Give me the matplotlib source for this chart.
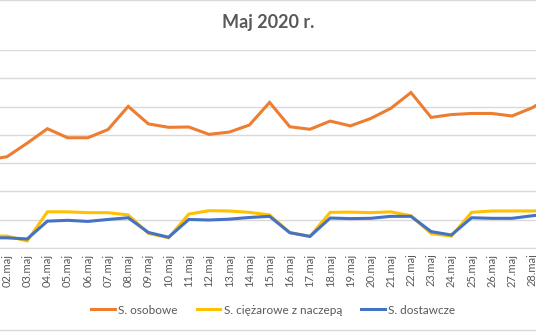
import numpy as np
import matplotlib
matplotlib.use("Agg")
import matplotlib.pyplot as plt
from matplotlib.lines import Line2D

plt.rcParams['font.family'] = ['Lato', 'DejaVu Sans']

# dane (01.maj - 29.maj, w tys.)
dni = [f"{d:02d}.maj" for d in range(1, 30)]
osobowe = [3.11, 3.23, 3.71, 4.22, 3.90, 3.90, 4.19, 5.01, 4.39, 4.27,
           4.28, 4.02, 4.10, 4.35, 5.15, 4.29, 4.20, 4.49, 4.32, 4.58,
           4.94, 5.50, 4.62, 4.72, 4.76, 4.76, 4.67, 4.96, 5.40]
ciezarowe = [0.43, 0.42, 0.25, 1.28, 1.28, 1.25, 1.25, 1.17, 0.52, 0.36,
             1.20, 1.32, 1.31, 1.26, 1.17, 0.55, 0.41, 1.26, 1.27, 1.25,
             1.28, 1.14, 0.51, 0.42, 1.26, 1.31, 1.31, 1.31, 1.32]
dostawcze = [0.36, 0.36, 0.32, 0.95, 0.98, 0.94, 1.01, 1.07, 0.55, 0.38,
             1.01, 0.99, 1.02, 1.08, 1.12, 0.54, 0.41, 1.06, 1.04, 1.05,
             1.12, 1.12, 0.58, 0.46, 1.07, 1.05, 1.05, 1.14, 1.22]

seria = [
    ("S. osobowe", osobowe, "#ED7D31"),
    ("S. ciężarowe z naczepą", ciezarowe, "#FFC000"),
    ("S. dostawcze", dostawcze, "#4472C4"),
]

fig = plt.figure(figsize=(5.36, 3.32), dpi=100)
ax = fig.add_axes([0, 0.253, 1, 0.596])

x = np.arange(len(dni))
for nazwa, wart, kolor in seria:
    ax.plot(x, wart, color=kolor, lw=2.2, label=nazwa, solid_joinstyle='miter')

ax.set_yticks(range(0, 8))
ax.set_yticklabels([])
ax.tick_params(axis='y', length=0)
ax.grid(axis='y', color='#d9d9d9', lw=1)
ax.set_axisbelow(True)
ax.set_xticks(x)
ax.set_xticklabels(dni, rotation=90, fontsize=8, color='#595959')
ax.tick_params(axis='x', length=0, pad=4)
# wykres jest przycięty: widać tylko od 02.maj do 28.maj
ax.set_xlim(0.653, 27.19)
ax.set_ylim(0, 7)
for s in ['top', 'right', 'left']:
    ax.spines[s].set_visible(False)
ax.spines['bottom'].set_color('#d9d9d9')

fig.text(0.5, 0.932, "Maj 2020 r.", ha='center', va='center',
         fontsize=13, fontweight='bold', color='#595959')

uchwyty = [Line2D([], [], color=k, lw=2.2) for _, _, k in seria]
fig.legend(uchwyty, [n for n, _, _ in seria], loc='center',
           bbox_to_anchor=(0.51, 0.066), ncol=3, frameon=False,
           fontsize=8.5, labelcolor='#595959', handlelength=2.0,
           handletextpad=0.3, columnspacing=1.6)

# ramka wykresu (góra i dół)
fig.add_artist(Line2D([0, 1], [0.999, 0.999], color='#d9d9d9', lw=1))
fig.add_artist(Line2D([0, 1], [0.006, 0.006], color='#d9d9d9', lw=1))

fig.savefig("out.png", dpi=100)
